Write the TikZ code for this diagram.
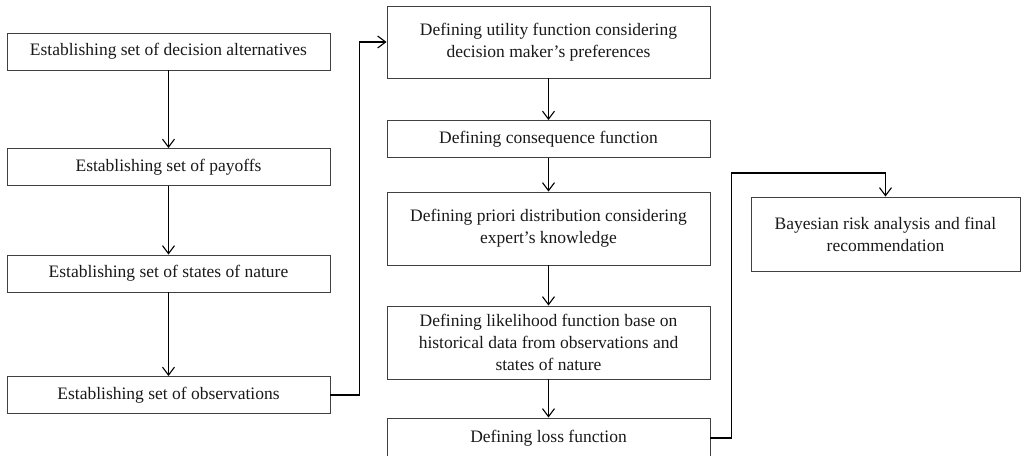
\documentclass[tikz,border=0pt]{standalone}
\usepackage{fontspec}
\setmainfont{Liberation Serif}
\usetikzlibrary{arrows.meta}
\begin{document}
\begin{tikzpicture}[x=1pt,y=-1pt,
  box/.style={draw=black!75, line width=0.9pt, rectangle, inner sep=0pt, align=center,
    font=\fontsize{17.5}{22}\selectfont, text=black!90},
  w1/.style={minimum width=323pt},
  w2/.style={minimum width=269pt},
  h1/.style={minimum height=37pt},
  h2/.style={minimum height=73pt},
  arr/.style={line width=1.1pt, -{Straight Barb[length=8pt,width=12pt,line width=1.1pt]}}]
\useasboundingbox (0,0) rectangle (1022,455);
\begin{scope}
\clip (0,0) rectangle (1022,455);
\node[box,w1,h1] (b1) at (168.5,51.5) {Establishing set of decision alternatives};
\node[box,w1,h1] (b2) at (168.5,167) {Establishing set of payoffs};
\node[box,w1,h1] (b3) at (168.5,273.5) {Establishing set of states of nature};
\node[box,w1,h1] (b4) at (168.5,395) {Establishing set of observations};
\node[box,w1,minimum height=72pt] (mA) at (548.5,42) {Defining utility function considering\\decision maker’s preferences};
\node[box,w1,h1] (mB) at (548.5,139) {Defining consequence function};
\node[box,w1,h2] (mC) at (548.5,228.5) {Defining priori distribution considering\\expert’s knowledge};
\node[box,w1,h2] (mD) at (548.5,342.5) {Defining likelihood function base on\\historical data from observations and\\states of nature};
\node[box,w1,minimum height=40pt] (mE) at (548.5,438) {Defining loss function};
\node[box,w2,minimum height=74pt] (r) at (885.5,234) {Bayesian risk analysis and final\\recommendation};
\draw[arr] (b1) -- (b2);
\draw[arr] (b2) -- (b3);
\draw[arr] (b3) -- (b4);
\draw[arr] (b4.east) -- ++(29,0) |- (mA.west);
\draw[arr] (mA) -- (mB);
\draw[arr] (mB) -- (mC);
\draw[arr] (mC) -- (mD);
\draw[arr] (mD) -- (mE);
\coordinate (top) at (885.5,173);
\draw[arr] (mE.east) -- ++(21,0) |- (top) -- (r.north);
\end{scope}
\end{tikzpicture}
\end{document}
